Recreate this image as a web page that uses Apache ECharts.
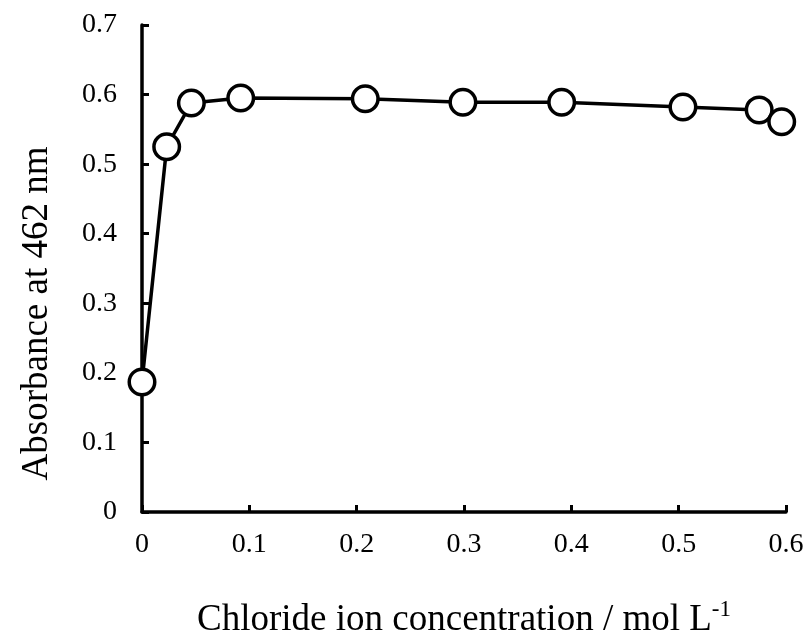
<!DOCTYPE html>
<html>
<head>
<meta charset="utf-8">
<script src="https://cdn.jsdelivr.net/npm/echarts@6/dist/echarts.min.js"></script>
<style>
  html, body { margin: 0; padding: 0; background: #fff; }
  #chart { width: 807px; height: 636px; }
</style>
</head>
<body>
<div id="chart"></div>
<script>
// Chloride ion concentration (mol/L) and absorbance at 462 nm
const chlorideConc = [0, 0.023, 0.046, 0.092, 0.208, 0.299, 0.391, 0.504, 0.575, 0.596];
const absorbance = [0.187, 0.525, 0.588, 0.595, 0.594, 0.589, 0.589, 0.582, 0.578, 0.561];
const xTicks = [0, 0.1, 0.2, 0.3, 0.4, 0.5, 0.6];
const yTicks = [0, 0.1, 0.2, 0.3, 0.4, 0.5, 0.6, 0.7];

const FONT = '"Liberation Serif", "Times New Roman", serif';
const points = chlorideConc.map((c, i) => [c, absorbance[i]]);

const chart = echarts.init(document.getElementById('chart'), null, { renderer: 'canvas' });
chart.setOption({
  animation: false,
  backgroundColor: '#ffffff',
  grid: { left: 142, right: 21, top: 25, bottom: 124, outerBoundsMode: 'none', containLabel: false },
  xAxis: {
    type: 'value',
    min: xTicks[0],
    max: xTicks[xTicks.length - 1],
    interval: 0.1,
    splitLine: { show: false },
    axisLine: { lineStyle: { color: '#000', width: 3.5 } },
    axisTick: { inside: true, length: 7, lineStyle: { color: '#000', width: 3 } },
    axisLabel: {
      margin: 19, color: '#000', fontFamily: FONT, fontSize: 28,
      formatter: v => (Math.round(v * 10) / 10).toString()
    },
    name: 'Chloride ion concentration / mol L{sup|-1}',
    nameLocation: 'middle',
    nameGap: 86,
    nameTextStyle: {
      color: '#000', fontFamily: FONT, fontSize: 37, lineHeight: 44,
      rich: {
        sup: { fontFamily: FONT, fontSize: 23, color: '#000', verticalAlign: 'top', lineHeight: 16 }
      }
    }
  },
  yAxis: {
    type: 'value',
    min: yTicks[0],
    max: yTicks[yTicks.length - 1],
    interval: 0.1,
    splitLine: { show: false },
    axisLine: { lineStyle: { color: '#000', width: 3.5 } },
    axisTick: { inside: true, length: 7, lineStyle: { color: '#000', width: 3 } },
    axisLabel: {
      margin: 25, color: '#000', fontFamily: FONT, fontSize: 28,
      formatter: v => (Math.round(v * 10) / 10).toString()
    },
    name: 'Absorbance at 462 nm',
    nameLocation: 'middle',
    nameGap: 86,
    nameTextStyle: { color: '#000', fontFamily: FONT, fontSize: 37, padding: [0, 90, 0, 0] }
  },
  series: [{
    type: 'line',
    data: points,
    clip: false,
    symbol: 'circle',
    symbolSize: 25.5,
    lineStyle: { color: '#000', width: 3.5 },
    itemStyle: { color: '#fff', borderColor: '#000', borderWidth: 3.5 },
    z: 5
  }]
});
</script>
</body>
</html>
